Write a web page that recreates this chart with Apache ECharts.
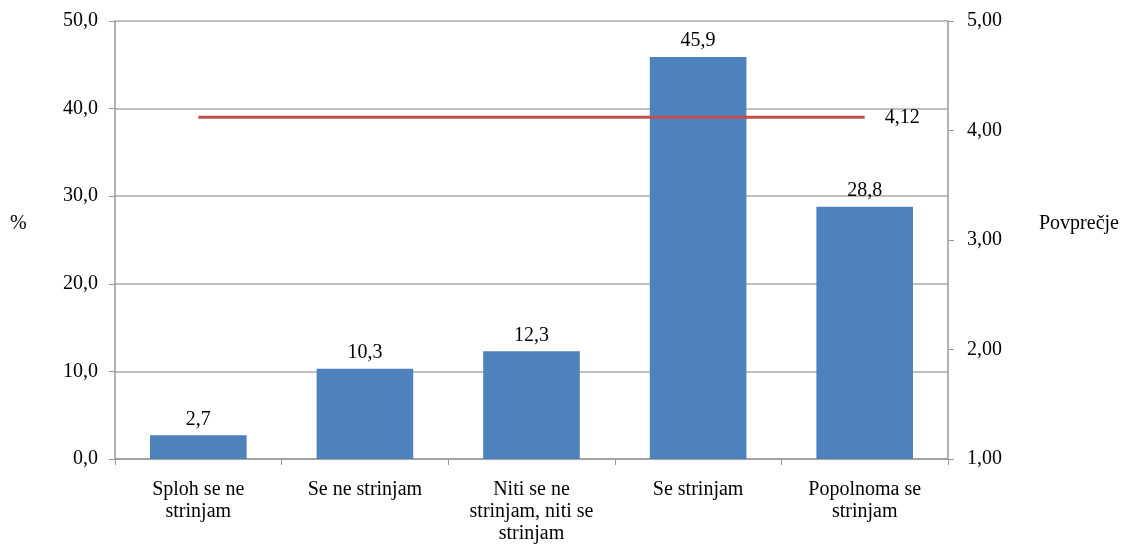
<!DOCTYPE html>
<html><head><meta charset="utf-8">
<script src="https://cdn.jsdelivr.net/npm/echarts@6/dist/echarts.min.js"></script>
<style>html,body{margin:0;padding:0;background:#fff}#c{width:1128px;height:545px}</style>
</head><body><div id="c"></div>
<script>
const categories = ['Sploh se ne\nstrinjam', 'Se ne strinjam', 'Niti se ne\nstrinjam, niti se\nstrinjam', 'Se strinjam', 'Popolnoma se\nstrinjam'];
const percentValues = [2.7, 10.3, 12.3, 45.9, 28.8];
const meanValues = [4.12, 4.12, 4.12, 4.12, 4.12];
const leftAxisName = '%';
const rightAxisName = 'Povprečje';

const FONT = '"Liberation Serif", "Times New Roman", serif';
const FS = 20;
const fmt = (v, d) => Number(v).toFixed(d).replace('.', ',');
const chart = echarts.init(document.getElementById('c'), null, {renderer: 'canvas'});
chart.setOption({
  animation: false,
  textStyle: {fontFamily: FONT, color: '#000'},
  grid: {left: 115, right: 180, top: 21, bottom: 82, containLabel: false},
  graphic: [
    {type: 'text', left: 10, top: 214, style: {text: leftAxisName, font: FS + 'px ' + FONT, fill: '#000'}},
    {type: 'text', left: 1039, top: 214, style: {text: rightAxisName, font: FS + 'px ' + FONT, fill: '#000'}}
  ],
  xAxis: {
    type: 'category', data: categories,
    axisLine: {lineStyle: {color: '#999', width: 1.5}},
    axisTick: {show: true, length: 6, lineStyle: {color: '#999'}},
    axisLabel: {fontFamily: FONT, fontSize: FS, color: '#000', margin: 20, lineHeight: 22, interval: 0}
  },
  yAxis: [{
    type: 'value', min: 0, max: 50, interval: 10,
    axisLine: {show: true, lineStyle: {color: '#999', width: 1.5}},
    axisTick: {show: true, length: 6, lineStyle: {color: '#999'}},
    splitLine: {lineStyle: {color: '#aaa', width: 1.5}},
    axisLabel: {fontFamily: FONT, fontSize: FS, color: '#000', margin: 17, formatter: v => fmt(v, 1)}
  }, {
    type: 'value', min: 1, max: 5, interval: 1, position: 'right',
    axisLine: {show: true, lineStyle: {color: '#999', width: 1.5}},
    axisTick: {show: true, length: 6, lineStyle: {color: '#999'}},
    splitLine: {show: false},
    axisLabel: {fontFamily: FONT, fontSize: FS, color: '#000', margin: 19, formatter: v => fmt(v, 2)}
  }],
  series: [{
    type: 'bar', data: percentValues, barWidth: '58%',
    itemStyle: {color: '#4F81BD'},
    label: {show: true, position: 'top', distance: 6, fontFamily: FONT, fontSize: FS, color: '#000', formatter: p => fmt(p.value, 1)}
  }, {
    type: 'line', yAxisIndex: 1, data: meanValues,
    symbol: 'none', showSymbol: false,
    lineStyle: {color: '#C0504D', width: 3},
    endLabel: {show: true, distance: 20, fontFamily: FONT, fontSize: FS, color: '#000', formatter: p => fmt(p.value, 2)}
  }]
});
</script></body></html>
